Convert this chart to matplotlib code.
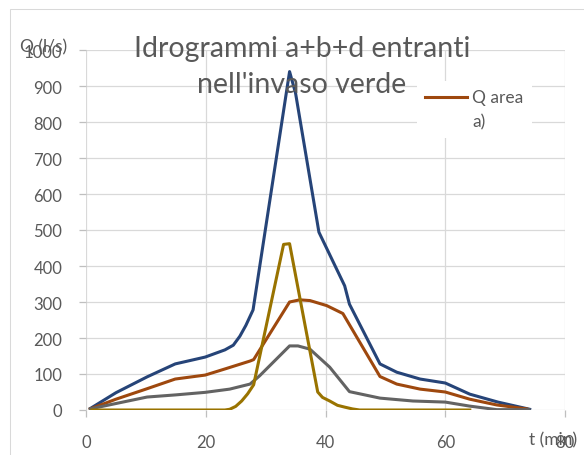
import matplotlib
matplotlib.use('Agg')
import matplotlib.pyplot as plt
from matplotlib.patches import Rectangle
from matplotlib.legend_handler import HandlerLine2D

plt.rcParams['font.family'] = ['Lato', 'DejaVu Sans']

# series: t (min), Q (l/s)
t_a = [0.7, 5, 10, 14.9, 19.9, 23.2, 27.4, 28, 34, 35.7, 37.4, 40.2, 42.9,
       49.1, 51.9, 55.8, 60, 64.1, 68.6, 73.6]
q_a = [3, 30, 58, 86, 97, 114, 136, 140, 300, 306, 304, 290, 268,
       93, 72, 58, 50, 30, 14, 3]

t_tot = [0.8, 5, 10.2, 14.9, 19.9, 23.2, 24.6, 25.7, 26.7, 27.9, 34, 35,
         38.9, 43.2, 44, 49.1, 51.9, 55.8, 60, 64.1, 68.8, 74.1]
q_tot = [5, 48, 92, 128, 147, 167, 180, 205, 235, 278, 940, 880,
         494, 345, 294, 128, 105, 86, 75, 44, 22, 2]

t_b = [0.7, 5, 10.2, 15, 19.9, 24, 27.4, 29, 34, 35.4, 37.4, 40.7, 44,
       49.1, 54.6, 60, 64, 68.6, 74]
q_b = [3, 18, 36, 42, 49, 58, 72, 95, 178, 178, 169, 119, 51,
       33, 25, 22, 11, 1, 1]

t_d = [1, 10, 20, 23.2, 24, 25, 26, 27, 28, 33, 34, 38.7, 39.5, 40.7, 42,
       43.2, 44.5, 45.7, 50, 60, 64.1]
q_d = [0, 0, 0, 0, 2, 10, 25, 45, 70, 460, 462, 50, 35, 25, 13,
       8, 3, 0, 0, 0, 0]

x_ticks = [0, 20, 40, 60, 80]
y_ticks = list(range(0, 1001, 100))


class HandlerUp(HandlerLine2D):
    # put the legend line next to the first line of the label
    def create_artists(self, legend, orig_handle, xdescent, ydescent,
                       width, height, fontsize, trans):
        arts = super().create_artists(legend, orig_handle, xdescent, ydescent,
                                      width, height, fontsize, trans)
        for a in arts:
            a.set_ydata([y + 9.5 for y in a.get_ydata()])
        return arts


fig = plt.figure(figsize=(5.84, 4.56), dpi=100)
fig.patches.append(Rectangle((10 / 584, -0.1), 1.2, 1.1 - 10 / 456,
                             transform=fig.transFigure, fill=False,
                             edgecolor='#D9D9D9', linewidth=0.75))
ax = fig.add_axes([86 / 584, 45 / 456, 479 / 584, 360 / 456])

ax.plot(t_tot, q_tot, color='#264478', linewidth=2.2)
line_a, = ax.plot(t_a, q_a, color='#9E480E', linewidth=2.2, label='Q area\na)')
ax.plot(t_b, q_b, color='#636363', linewidth=2.2)
ax.plot(t_d, q_d, color='#997300', linewidth=2.2)

ax.set_xlim(0, 80)
ax.set_ylim(0, 1000)
ax.set_xticks(x_ticks)
ax.set_yticks(y_ticks)
ax.grid(True, color='#D9D9D9', linewidth=0.9)
ax.set_axisbelow(True)
for s in ax.spines.values():
    s.set_visible(False)
ax.tick_params(colors='#BFBFBF', labelcolor='#595959', labelsize=12,
               length=5, width=0.9)
ax.tick_params(axis='x', pad=12)
ax.tick_params(axis='y', pad=12)

fig.text(20 / 584, 1 - 47 / 456, 'Q (l/s)', color='#595959', fontsize=12.5,
         va='center', ha='left')
fig.text(529 / 584, 1 - 440 / 456, 't (min)', color='#595959', fontsize=12.5,
         va='center', ha='left')
fig.text(302 / 584, 1 - 67 / 456, "Idrogrammi a+b+d entranti\nnell'invaso verde",
         color='#595959', fontsize=20.5, ha='center', va='center',
         linespacing=1.5)

leg = ax.legend(loc='upper left', bbox_to_anchor=(408 / 584, 1 - 73 / 456),
                bbox_transform=fig.transFigure, frameon=True, fontsize=12.5,
                handlelength=2.4, handletextpad=0.3, borderpad=0.5,
                labelcolor='#595959', handler_map={line_a: HandlerUp()})
leg.get_texts()[0].set_linespacing(1.6)
leg.get_frame().set_edgecolor('none')
leg.get_frame().set_facecolor('white')
leg.get_frame().set_alpha(1)

fig.savefig('out.png', dpi=100)
